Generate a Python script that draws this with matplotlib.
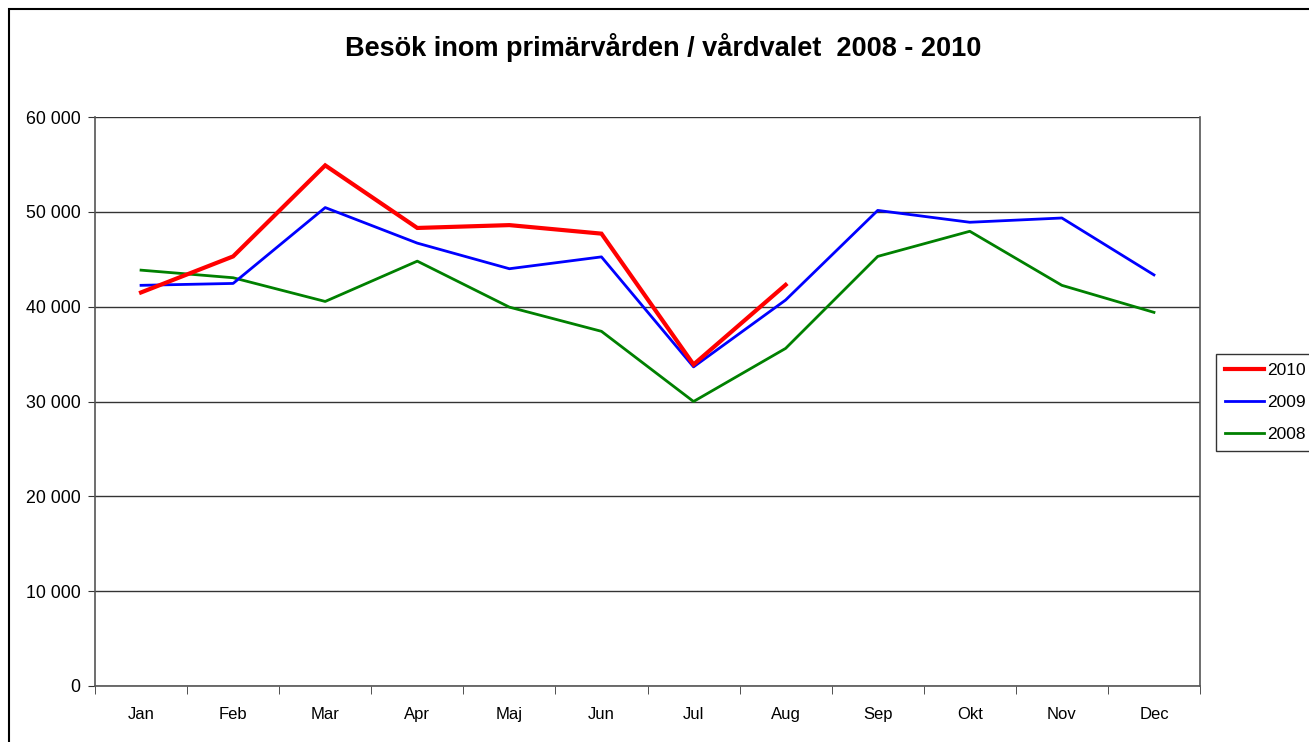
import numpy as np
import matplotlib
matplotlib.use("Agg")
import matplotlib.pyplot as plt
from matplotlib.patches import Rectangle
from matplotlib.ticker import FuncFormatter

plt.rcParams['font.family'] = ['Liberation Sans', 'DejaVu Sans']

months = ['Jan', 'Feb', 'Mar', 'Apr', 'Maj', 'Jun', 'Jul', 'Aug', 'Sep', 'Okt', 'Nov', 'Dec']
visits_2010 = [41500, 45300, 54900, 48300, 48600, 47700, 33900, 42300]
visits_2009 = [42250, 42450, 50450, 46700, 44000, 45250, 33650, 40700, 50150, 48900, 49350, 43350]
visits_2008 = [43850, 43050, 40550, 44800, 39950, 37400, 30000, 35600, 45300, 47950, 42250, 39400]

fig = plt.figure(figsize=(13.09, 7.42), dpi=100)
ax = fig.add_axes([95 / 1309, 56 / 742, 1105 / 1309, 569 / 742])

# figure border (left and top visible, rest cut off)
fig.patches.append(Rectangle((9 / 1309, -0.1), 1.2, 1 - 9 / 742 + 0.1,
                             transform=fig.transFigure, fill=False,
                             edgecolor='black', linewidth=1.5))

x = np.arange(len(months))
ax.plot(x[:len(visits_2010)], visits_2010, color='#ff0000', linewidth=3.0, label='2010',
        solid_joinstyle='miter', zorder=5)
ax.plot(x, visits_2009, color='#0000ff', linewidth=2.0, label='2009', zorder=4)
ax.plot(x, visits_2008, color='#008000', linewidth=2.0, label='2008', zorder=3)

ax.set_xlim(-0.5, len(months) - 0.5)
ax.set_ylim(0, 60000)
ax.set_yticks(np.arange(0, 60001, 10000))
ax.yaxis.set_major_formatter(FuncFormatter(lambda v, p: f'{int(v):,}'.replace(',', ' ')))
ax.grid(axis='y', color='#333333', linewidth=1.0)
ax.set_axisbelow(True)

ax.set_xticks(x)
ax.set_xticklabels(months)
ax.set_xticks(np.arange(-0.5, len(months)), minor=True)
ax.tick_params(axis='x', which='major', length=0, pad=15, labelsize=12)
ax.tick_params(axis='x', which='minor', length=6, color='#333333', direction='out')
ax.tick_params(axis='y', length=5, pad=5.5, labelsize=12.8, color='#333333')

ax.spines['top'].set_visible(False)
for side in ['left', 'bottom', 'right']:
    ax.spines[side].set_color('#555555')
    ax.spines[side].set_linewidth(1.2)

fig.text(663 / 1309, 1 - 48 / 742, 'Besök inom primärvården / vårdvalet  2008 - 2010',
         ha='center', va='center', fontsize=19.5, fontweight='bold')

leg = fig.legend(loc='upper left', bbox_to_anchor=(1216 / 1309, 1 - 354 / 742),
                 fontsize=12.5, frameon=True, fancybox=False, handlelength=2.25,
                 handletextpad=0.2, borderpad=0.5, labelspacing=0.98, borderaxespad=0)
leg.get_frame().set_edgecolor('black')
leg.get_frame().set_linewidth(1.0)

fig.savefig('out.png', dpi=100)
